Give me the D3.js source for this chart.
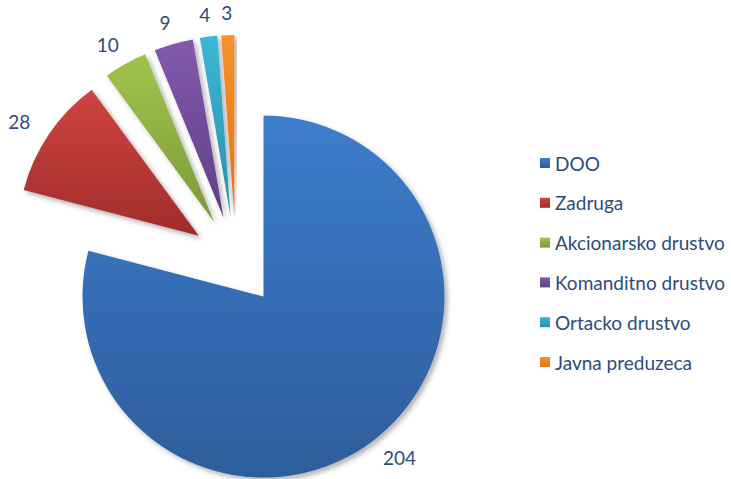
<!DOCTYPE html>
<html>
<head>
<meta charset="utf-8">
<script src="https://cdn.jsdelivr.net/npm/d3@7"></script>
<style>
  body { margin: 0; background: #fff; }
  svg { display: block; font-family: Lato, "Open Sans", sans-serif; }
</style>
</head>
<body>
<svg id="chart" width="731" height="479"></svg>
<script>
// data
var categories = ['DOO', 'Zadruga', 'Akcionarsko drustvo', 'Komanditno drustvo', 'Ortacko drustvo', 'Javna preduzeca'];
var values = [204, 28, 10, 9, 4, 3];
var colorsTop = ['#3d7ccc', '#cf4441', '#a1c44e', '#8359ad', '#3cb7d6', '#f7912c'];
var colorsBottom = ['#2e5d9c', '#a02c2a', '#7c9a38', '#5f3f86', '#2a8fac', '#de7414'];

var svg = d3.select('#chart');
var cx = 236, cy = 261, radius = 181, explode = 45, labelGap = 11;

var defs = svg.append('defs');
var shadow = defs.append('filter').attr('id', 'shadow')
    .attr('x', '-20%').attr('y', '-20%').attr('width', '140%').attr('height', '140%');
shadow.append('feDropShadow').attr('dx', 3).attr('dy', 3).attr('stdDeviation', 2.5)
    .attr('flood-color', '#000').attr('flood-opacity', 0.3);

categories.forEach(function (c, i) {
    var g = defs.append('linearGradient').attr('id', 'grad' + i)
        .attr('x1', 0).attr('y1', 0).attr('x2', 0).attr('y2', 1);
    g.append('stop').attr('offset', '0%').attr('stop-color', colorsTop[i]);
    g.append('stop').attr('offset', '100%').attr('stop-color', colorsBottom[i]);
});

var pie = d3.pie().sort(null).value(function (d) { return d; });
var arcs = pie(values);
var arc = d3.arc().innerRadius(0).outerRadius(radius);

function dir(d) {
    var a = (d.startAngle + d.endAngle) / 2;
    return [Math.sin(a), -Math.cos(a)];
}

var root = svg.append('g').attr('transform', 'translate(' + cx + ',' + cy + ')');

root.selectAll('path.slice').data(arcs).enter().append('path')
    .attr('class', 'slice')
    .attr('d', arc)
    .attr('fill', function (d, i) { return 'url(#grad' + i + ')'; })
    .attr('filter', 'url(#shadow)')
    .attr('transform', function (d) {
        var v = dir(d);
        return 'translate(' + (v[0] * explode) + ',' + (v[1] * explode) + ')';
    });

// labels at outside end, pushed out by half their box
var labels = root.selectAll('text.lbl').data(arcs).enter().append('text')
    .attr('class', 'lbl')
    .attr('text-anchor', 'middle')
    .attr('dominant-baseline', 'central')
    .attr('font-size', 19)
    .attr('fill', '#2b4d7c')
    .text(function (d) { return d.data; });

labels.each(function (d) {
    var b = this.getBBox();
    var v = dir(d);
    var r = explode + radius + labelGap;
    d3.select(this)
        .attr('x', v[0] * r + v[0] * b.width / 2 + v[0] * 14)
        .attr('y', v[1] * r + v[1] * b.height / 2);
});

// legend
var legend = svg.append('g').attr('transform', 'translate(540,163)');
var item = legend.selectAll('g').data(categories).enter().append('g')
    .attr('transform', function (d, i) { return 'translate(0,' + (i * 39.8) + ')'; });
item.append('rect').attr('x', 0).attr('y', -5).attr('width', 10).attr('height', 10)
    .attr('fill', function (d, i) { return 'url(#grad' + i + ')'; });
item.append('text').attr('x', 15).attr('y', 0)
    .attr('dominant-baseline', 'central')
    .attr('font-size', 19)
    .attr('fill', '#2b4d7c')
    .text(function (d) { return d; });
</script>
</body>
</html>
